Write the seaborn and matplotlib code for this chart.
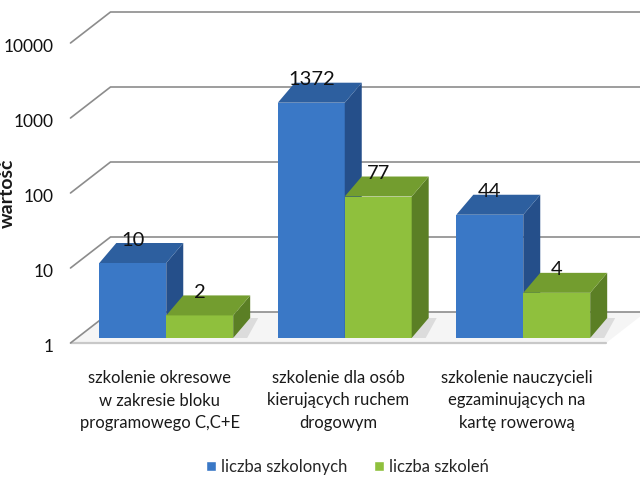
import numpy as np
import pandas as pd
import matplotlib
matplotlib.use("Agg")
import matplotlib.pyplot as plt
import seaborn as sns
from matplotlib.patches import Polygon, Rectangle
from matplotlib.lines import Line2D
from matplotlib.transforms import IdentityTransform
from matplotlib.ticker import NullLocator

# ---------------- data ----------------
categories = [
    "szkolenie okresowe\nw zakresie bloku\nprogramowego C,C+E",
    "szkolenie dla osób\nkierujących ruchem\ndrogowym",
    "szkolenie nauczycieli\negzaminujących na\nkartę rowerową",
]
series_names = ["liczba szkolonych", "liczba szkoleń"]
liczba_szkolonych = [10, 1372, 44]
liczba_szkolen = [2, 77, 4]
y_ticks = [1, 10, 100, 1000, 10000]
y_tick_labels = ["1", "10", "100", "1000", "10000"]
y_title = "wartość"

df = pd.DataFrame({
    "kategoria": categories * 2,
    "seria": [series_names[0]] * 3 + [series_names[1]] * 3,
    "wartosc": liczba_szkolonych + liczba_szkolen,
})

# colours: front, side, top
cols = {
    series_names[0]: ("#3a78c6", "#254f8a", "#2d5f9f"),
    series_names[1]: ("#8fc03d", "#5b7f25", "#739d2f"),
}

sns.set_theme(style="white")
plt.rcParams["font.family"] = ["Lato", "DejaVu Sans"]

fig = plt.figure(figsize=(6.4, 4.8), dpi=100)
# axes = plane of bar front faces
ax = fig.add_axes([77 / 640, (480 - 338) / 480, 535.5 / 640, 300 / 480])
ax.set_yscale("log")
sns.barplot(data=df, x="kategoria", y="wartosc", hue="seria",
            palette=[cols[s][0] for s in series_names], hue_order=series_names,
            width=0.75, saturation=1, ax=ax, errorbar=None)
bars = [p for p in ax.patches if isinstance(p, Rectangle) and p.get_width() > 0]
ax.set_ylim(1, 10000)
ax.set_xlim(-0.5, 2.5)
ax.set_xticks([])
ax.set_yticks([])
ax.yaxis.set_minor_locator(NullLocator())
ax.set_xlabel("")
for s in ax.spines.values():
    s.set_visible(False)
ax.patch.set_alpha(0)

F = np.array([-6.5, -5.0])   # front plane offset (px)
B = np.array([33.5, 26.0])   # back wall offset (px)
D = np.array([17.0, 20.0])   # bar depth (px)


def disp(x, y, off=(0, 0)):
    return ax.transData.transform((x, y)) + np.asarray(off)


# floor
floor = Polygon([disp(-0.5, 1, F), disp(2.5, 1, F), disp(2.5, 1, B), disp(-0.5, 1, B)],
                closed=True, transform=IdentityTransform(), facecolor="#f5f5f5",
                edgecolor="none", zorder=0.3, clip_on=False)
ax.add_artist(floor)
ax.add_artist(Line2D(*np.array([disp(-0.5, 1, F), disp(2.5, 1, F)]).T,
                     transform=IdentityTransform(), color="#c8c8c8", lw=1.6,
                     zorder=0.4, clip_on=False))

# walls / gridlines
for v in y_ticks:
    pts = np.array([disp(-0.5, v, F), disp(-0.5, v, B), disp(2.5, v, B)])
    ax.add_artist(Line2D(pts[:, 0], pts[:, 1], transform=IdentityTransform(),
                         color="#8c8c8c", lw=1.2, zorder=0.5, clip_on=False))

# tick labels (at front plane)
for v, lab in zip(y_ticks, y_tick_labels):
    p = disp(-0.5, v, F)
    fig.text(p[0] - 17, p[1] - 4, lab, transform=IdentityTransform(),
             ha="right", va="center", fontsize=12.5, color="#111111")

ax.set_ylabel(y_title, fontsize=14, fontweight="bold", color="#1a1a1a")
ax.yaxis.set_label_coords((16 - 77) / 535.5, (338 - 193) / 300)

# 3-D faces for bars
n = len(categories)
values = liczba_szkolonych + liczba_szkolen
for k, patch in enumerate(bars):
    s = series_names[k // n]
    front, side, top = cols[s]
    z = 3 + k // n
    patch.set_zorder(z)
    patch.set_edgecolor("none")
    x0 = patch.get_x()
    w = patch.get_width()
    h = patch.get_height()
    BL, BR, TR, TL = disp(x0, 1), disp(x0 + w, 1), disp(x0 + w, h), disp(x0, h)
    # soft shadow on floor
    ax.add_artist(Polygon([BR, BR + np.array([14, 0]), BR + D + np.array([8, 0]), BR + D],
                          closed=True, transform=IdentityTransform(),
                          facecolor="#dcdcdc", edgecolor="none", zorder=0.6, clip_on=False))
    ax.add_artist(Polygon([BR, BR + D, TR + D, TR], closed=True, transform=IdentityTransform(),
                          facecolor=side, edgecolor="none", zorder=z, clip_on=False))
    ax.add_artist(Polygon([TL, TR, TR + D, TL + D], closed=True, transform=IdentityTransform(),
                          facecolor=top, edgecolor="none", zorder=z, clip_on=False))
    c = (TL + TR) / 2
    fig.text(c[0], c[1] + 23, str(values[k]), transform=IdentityTransform(),
             ha="center", va="center", fontsize=14.5, color="#111111", zorder=10)

# category labels
for i, cat in enumerate(categories):
    p = disp(i, 1, F)
    fig.text(p[0], p[1] - 27, cat, transform=IdentityTransform(), ha="center", va="top",
             fontsize=12, linespacing=1.5, color="#1a1a1a")

sns.move_legend(ax, "center", bbox_to_anchor=(347 / 640, 13 / 480),
                bbox_transform=fig.transFigure, ncol=2, frameon=False, title=None,
                fontsize=12, handlelength=0.6, handleheight=0.6, handletextpad=0.3,
                columnspacing=1.6)

fig.savefig("out.png", dpi=100)
